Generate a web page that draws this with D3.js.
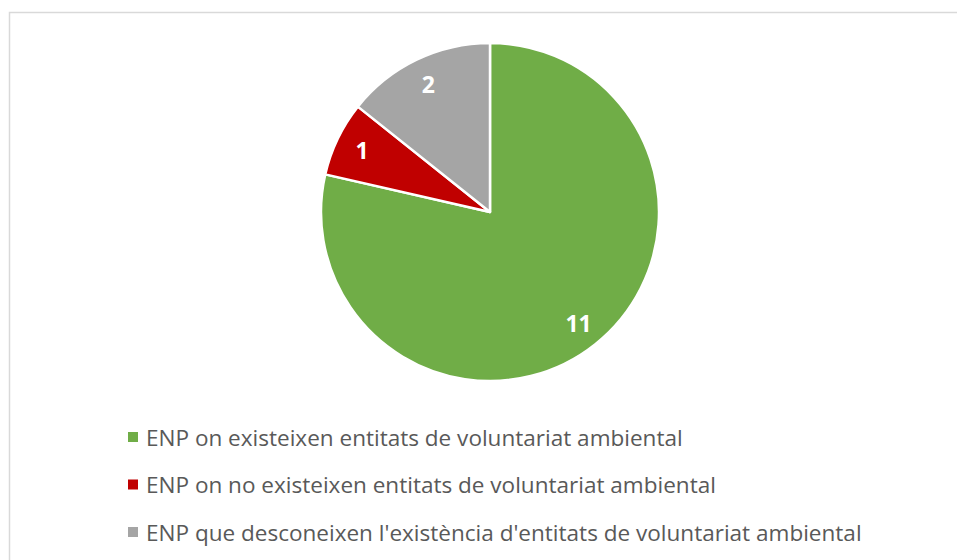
<!DOCTYPE html>
<html>
<head>
<meta charset="utf-8">
<script src="https://cdn.jsdelivr.net/npm/d3@7"></script>
<style>
  html, body { margin: 0; padding: 0; background: #fff; }
  svg { display: block; }
</style>
</head>
<body>
<svg id="chart" width="957" height="560"></svg>
<script>
const categories = [
  "ENP on existeixen entitats de voluntariat ambiental",
  "ENP on no existeixen entitats de voluntariat ambiental",
  "ENP que desconeixen l'existència d'entitats de voluntariat ambiental"
];
const values = [11, 1, 2];
const colors = ["#70ad47", "#c00000", "#a5a5a5"];

const svg = d3.select("#chart");
const W = 957, H = 560;

// chart border
svg.append("rect")
  .attr("x", 9.5).attr("y", 12.5)
  .attr("width", W + 20).attr("height", H + 20)
  .attr("fill", "#fff")
  .attr("stroke", "#d9d9d9")
  .attr("stroke-width", 1.5);

const cx = 490, cy = 212, R = 169;
const pie = d3.pie().sort(null).value(d => d.v);
const data = pie(values.map((v, i) => ({ v, i })));
const arc = d3.arc().innerRadius(0).outerRadius(R);
const labelArc = d3.arc().innerRadius(142).outerRadius(142);

const g = svg.append("g").attr("transform", `translate(${cx},${cy})`);
g.selectAll("path").data(data).join("path")
  .attr("d", arc)
  .attr("fill", d => colors[d.data.i])
  .attr("stroke", "#fff")
  .attr("stroke-width", 2.5)
  .attr("stroke-linejoin", "round");

g.selectAll("text").data(data).join("text")
  .attr("transform", d => `translate(${labelArc.centroid(d)})`)
  .attr("text-anchor", "middle")
  .attr("dominant-baseline", "central")
  .attr("fill", "#fff")
  .attr("font-family", "'Open Sans', 'Noto Sans', sans-serif")
  .attr("font-weight", "bold")
  .attr("font-size", 23)
  .text(d => d.data.v);

// legend
const legY = d3.scalePoint().domain(d3.range(categories.length)).range([437, 532]);
const leg = svg.append("g");
const rows = leg.selectAll("g").data(categories).join("g")
  .attr("transform", (d, i) => `translate(128,${legY(i)})`);
rows.append("rect")
  .attr("x", 0).attr("y", -5).attr("width", 10).attr("height", 10)
  .attr("fill", (d, i) => colors[i]);
rows.append("text")
  .attr("x", 18).attr("y", 0)
  .attr("dominant-baseline", "central")
  .attr("fill", "#595959")
  .attr("font-family", "'Open Sans', 'Noto Sans', sans-serif")
  .attr("font-size", 20)
  .text(d => d);

// fit font size so widest entry matches reference width (~716px)
const texts = rows.selectAll("text").nodes();
const w3 = texts[2].getComputedTextLength();
const fs = 20 * 716 / w3;
rows.selectAll("text").attr("font-size", fs);
</script>
</body>
</html>
